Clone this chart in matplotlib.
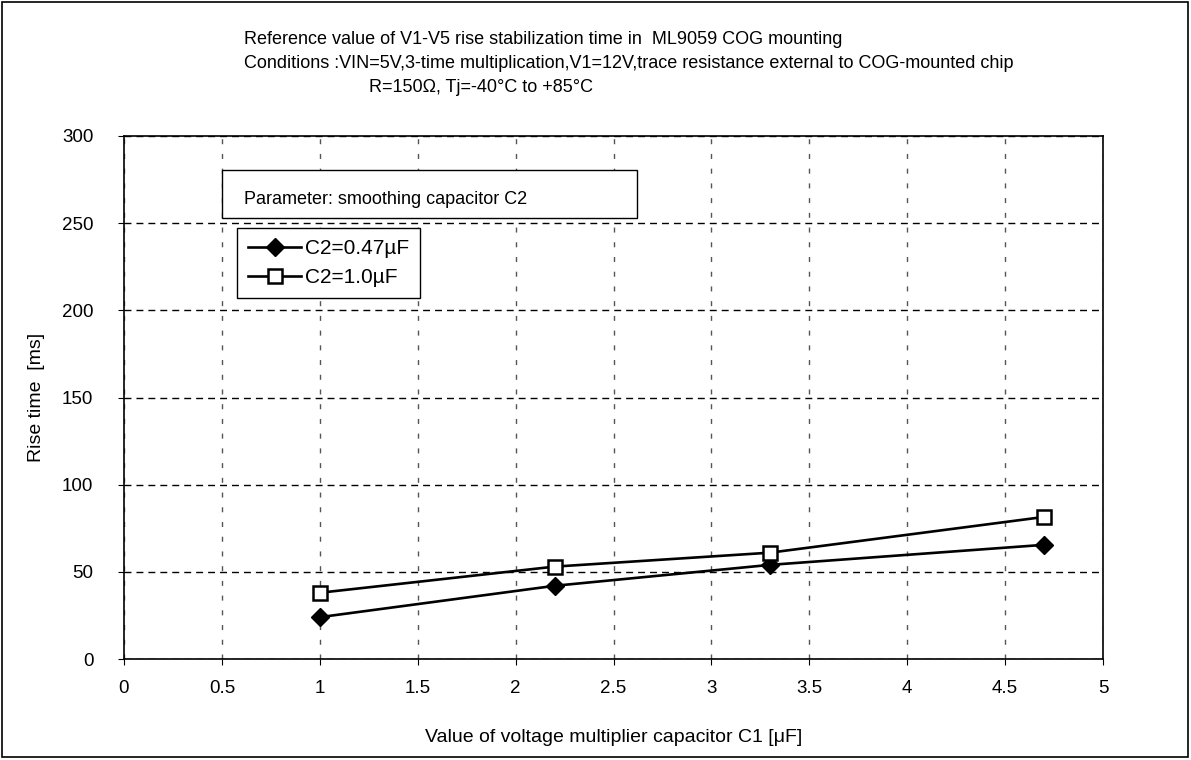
import matplotlib
matplotlib.use("Agg")
import matplotlib.pyplot as plt
from matplotlib.patches import Rectangle

plt.rcParams['font.family'] = ['Liberation Sans', 'DejaVu Sans']

# capacitor C1 values [uF]
c1_values = [1.0, 2.2, 3.3, 4.7]
# rise time [ms] for each smoothing capacitor C2
rise_c2_047 = [24, 42, 54, 65.5]
rise_c2_10 = [38, 53, 61, 81.5]
series_labels = ["C2=0.47µF", "C2=1.0µF"]

x_ticks = [0, 0.5, 1, 1.5, 2, 2.5, 3, 3.5, 4, 4.5, 5]
x_tick_labels = ["0", "0.5", "1", "1.5", "2", "2.5", "3", "3.5", "4", "4.5", "5"]
y_ticks = [0, 50, 100, 150, 200, 250, 300]

title_lines = [
    "Reference value of V1-V5 rise stabilization time in  ML9059 COG mounting",
    "Conditions :VIN=5V,3-time multiplication,V1=12V,trace resistance external to COG-mounted chip",
    "R=150Ω, Tj=-40°C to +85°C",
]
param_text = "Parameter: smoothing capacitor C2"

W, H = 1191, 760
fig = plt.figure(figsize=(W / 100, H / 100), dpi=100)

def fx(px):
    return px / W

def fy(py):
    return 1 - py / H

# outer frame of the whole chart
fig.patches.append(Rectangle((fx(2), fy(757)), fx(1186), 755 / H, transform=fig.transFigure,
                             fill=False, edgecolor="black", linewidth=1.2))

ax = fig.add_axes([fx(124), fy(659), fx(1103 - 124), (659 - 136) / H])

ax.plot(c1_values, rise_c2_047, color="black", linewidth=1.9, marker="D",
        markersize=9, markerfacecolor="black", markeredgecolor="black",
        label=series_labels[0], zorder=4)
ax.plot(c1_values, rise_c2_10, color="black", linewidth=1.9, marker="s",
        markersize=10, markerfacecolor="white", markeredgecolor="black",
        markeredgewidth=1.8, label=series_labels[1], zorder=4)

ax.set_xlim(0, 5)
ax.set_ylim(0, 300)
ax.set_xticks(x_ticks)
ax.set_xticklabels(x_tick_labels)
ax.set_yticks(y_ticks)

ax.xaxis.grid(True, color="#555555", linestyle=(0, (3.6, 7)), linewidth=1.0)
ax.yaxis.grid(True, color="black", linestyle=(0, (5, 3.6)), linewidth=1.0)
ax.set_axisbelow(True)

for s in ax.spines.values():
    s.set_linewidth(1.2)
    s.set_color("black")

ax.tick_params(direction="out", length=4, width=0.8, labelsize=13.5, pad=11)
ax.tick_params(axis="y", pad=18)

ax.set_xlabel("Value of voltage multiplier capacitor C1 [μF]", fontsize=14, labelpad=23)
ax.set_ylabel("Rise time  [ms]", fontsize=14, labelpad=12)

# title block
fig.text(fx(244), fy(40), title_lines[0], fontsize=13, va="center", ha="left")
fig.text(fx(244), fy(63), title_lines[1], fontsize=13, va="center", ha="left")
fig.text(fx(369), fy(87), title_lines[2], fontsize=13, va="center", ha="left")

# parameter box
fig.patches.append(Rectangle((fx(222), fy(218)), fx(637 - 222), (218 - 170) / H,
                             transform=fig.transFigure, facecolor="white",
                             edgecolor="black", linewidth=1.0, zorder=5))
fig.text(fx(244), fy(200), param_text, fontsize=13, va="center", ha="left", zorder=6)

leg = ax.legend(loc="upper left", bbox_to_anchor=(fx(237), fy(228)),
                bbox_transform=fig.transFigure, frameon=True, fancybox=False,
                edgecolor="black", fontsize=15, handlelength=2.5,
                handletextpad=0.2, borderpad=0.55, labelspacing=0.45,
                borderaxespad=0)
leg.get_frame().set_linewidth(1.0)
leg.get_frame().set_alpha(1)

fig.savefig("out.png", dpi=100, facecolor="white")
